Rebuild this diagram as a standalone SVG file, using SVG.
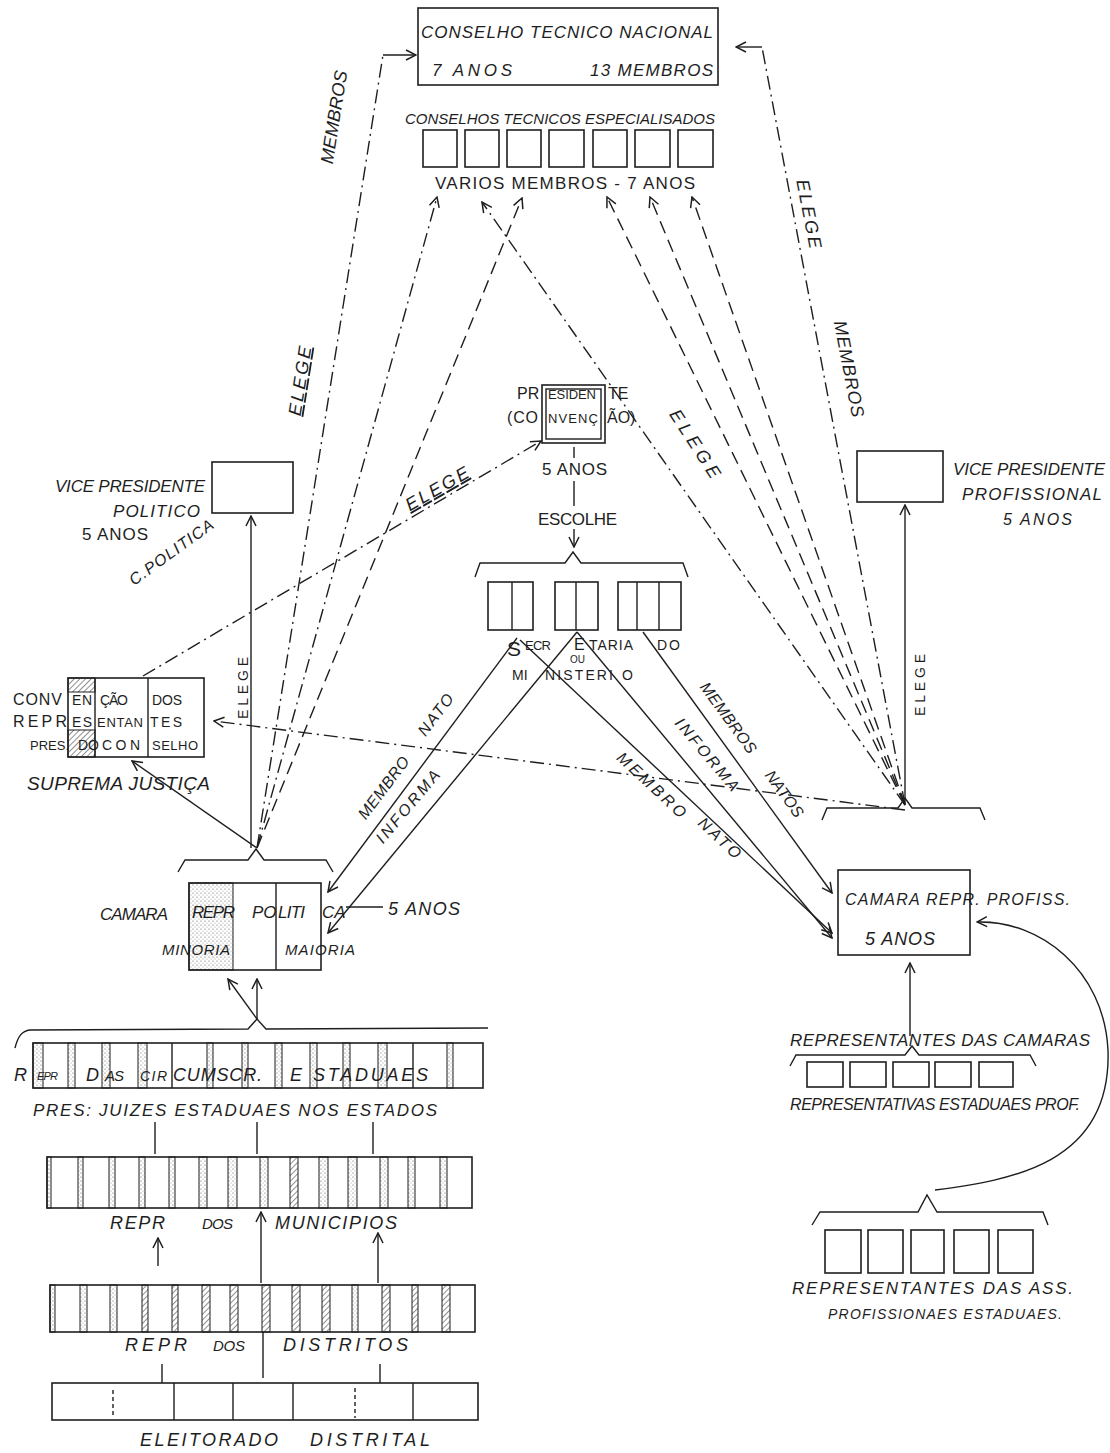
<svg xmlns="http://www.w3.org/2000/svg" width="1110" height="1453" viewBox="0 0 1110 1453">
<style>
.b{fill:none;stroke:#1e1e1e;stroke-width:1.6}
.l{fill:none;stroke:#1e1e1e;stroke-width:1.4}
.dd{fill:none;stroke:#1e1e1e;stroke-width:1.4;stroke-dasharray:14 5 2 5}
.da{fill:none;stroke:#1e1e1e;stroke-width:1.4;stroke-dasharray:13 7}
.a{marker-end:url(#ah)}
text{font-family:"Liberation Sans",Arial,sans-serif;fill:#1e1e1e;font-size:16px}
.i{font-style:italic}
.s{font-size:13px}
.t{font-size:14px}
.m{font-size:17px}
.g{font-size:18px}
.u{text-decoration:underline}
.st{fill:url(#dots);stroke:#1e1e1e;stroke-width:1}
.ht{fill:url(#hatch);stroke:#1e1e1e;stroke-width:1}
</style>
<defs>
<marker id="ah" viewBox="0 0 12 12" refX="11" refY="6" markerWidth="12" markerHeight="12" markerUnits="userSpaceOnUse" orient="auto"><path d="M1,1 L11,6 L1,11" fill="none" stroke="#1e1e1e" stroke-width="1.5"/></marker>
<pattern id="dots" width="4" height="4" patternUnits="userSpaceOnUse"><circle cx="1" cy="1" r="0.6" fill="#555"/><circle cx="3" cy="3" r="0.5" fill="#888"/></pattern>
<pattern id="hatch" width="4" height="4" patternUnits="userSpaceOnUse" patternTransform="rotate(45)"><line x1="0" y1="0" x2="0" y2="4" stroke="#444" stroke-width="1.2"/></pattern>
</defs>
<rect width="1110" height="1453" fill="#fff"/>

<g id="connectors">
<path class="l a" d="M251,848 L251,516"/>
<path class="dd" d="M257,848 L383,55"/>
<path class="l a" d="M383,55 L416,55"/>
<path class="dd a" d="M257,848 L437,197"/>
<path class="da a" d="M257,848 L522,198"/>
<path class="l a" d="M257,848 L132,761"/>
<path class="l a" d="M905,805 L905,505"/>
<path class="dd" d="M905,805 L762,47"/>
<path class="l a" d="M762,47 L736,47"/>
<path class="dd a" d="M905,805 L482,202"/>
<path class="da a" d="M905,805 L607,197"/>
<path class="da a" d="M905,805 L650,197"/>
<path class="da a" d="M905,805 L692,197"/>
<path class="dd a" d="M905,810 L214,721"/>
<path class="dd a" d="M143,676 L541,441"/>
<path class="l" d="M574,447 L574,458"/>
<path class="l" d="M574,481 L574,506"/>
<path class="l a" d="M574,529 L574,547"/>
<path class="l a" d="M517,638 L328,892"/>
<path class="l a" d="M577,632 L328,933"/>
<path class="l a" d="M520,640 L832,933"/>
<path class="l a" d="M577,632 L832,938"/>
<path class="l a" d="M643,632 L832,893"/>
<path class="l" d="M346,907 L383,907"/>
<path class="l a" d="M257,1019 L228,979"/>
<path class="l a" d="M257,1019 L257,979"/>
<path class="l" d="M155,1122 L155,1154 M257,1122 L257,1154 M373,1122 L373,1154"/>
<path class="l a" d="M158,1266 L158,1238"/>
<path class="l a" d="M261,1283 L261,1212"/>
<path class="l a" d="M378,1283 L378,1233"/>
<path class="l" d="M162,1364 L162,1383 M263,1332 L263,1378 M380,1364 L380,1383"/>
<path class="l a" d="M910,1036 L910,963"/>
<path class="l a" d="M935,1190 C1010,1180 1112,1165 1108,1050 C1104,970 1040,920 977,922"/>
</g>

<g id="conselho-nacional">
<rect class="b" x="418" y="8" width="300" height="77"/>
<text class="i m" x="421" y="38" textLength="292" lengthAdjust="spacing">CONSELHO TECNICO NACIONAL</text>
<text class="i m" x="432" y="76" textLength="80" lengthAdjust="spacing">7 ANOS</text>
<text class="i m" x="590" y="76" textLength="123" lengthAdjust="spacing">13 MEMBROS</text>
</g>

<g id="conselhos-especialisados">
<text class="i" x="405" y="124" style="font-size:15px" textLength="310" lengthAdjust="spacing">CONSELHOS TECNICOS ESPECIALISADOS</text>
<rect class="b" x="423" y="130" width="34" height="37"/>
<rect class="b" x="465" y="130" width="34" height="37"/>
<rect class="b" x="507" y="130" width="34" height="37"/>
<rect class="b" x="549" y="130" width="35" height="37"/>
<rect class="b" x="593" y="130" width="34" height="37"/>
<rect class="b" x="635" y="130" width="35" height="37"/>
<rect class="b" x="678" y="130" width="35" height="37"/>
<text class="m" x="435" y="189" textLength="260" lengthAdjust="spacing">VARIOS MEMBROS - 7 ANOS</text>
</g>

<g id="presidente">
<rect class="b" x="542" y="385" width="63" height="58"/>
<rect class="l" x="546" y="389" width="55" height="50"/>
<text x="517" y="399">PR</text>
<text class="s" x="548" y="399" textLength="48" lengthAdjust="spacing">ESIDEN</text>
<text x="608" y="399">TE</text>
<text x="507" y="423" textLength="31" lengthAdjust="spacing">(CO</text>
<text class="s" x="548" y="423" textLength="50" lengthAdjust="spacing">NVENÇ</text>
<text x="607" y="423">ÃO)</text>
<text class="m" x="542" y="475" textLength="65" lengthAdjust="spacing">5 ANOS</text>
<text class="m" x="538" y="525" textLength="79" lengthAdjust="spacing">ESCOLHE</text>
</g>

<g id="secretarias">
<path class="l" d="M475,577 L480,563 L565,563 L573,552 L581,563 L683,563 L688,577"/>
<rect class="b" x="488" y="582" width="45" height="48"/>
<path class="l" d="M512,582 L512,630"/>
<rect class="b" x="555" y="582" width="43" height="48"/>
<path class="l" d="M576,582 L576,630"/>
<rect class="b" x="618" y="582" width="63" height="48"/>
<path class="l" d="M637,582 L637,630 M659,582 L659,630"/>
<text x="507" y="656" style="font-size:21px">S</text>
<text class="s" x="525" y="650" textLength="26" lengthAdjust="spacing">ECR</text>
<text x="574" y="650">E</text>
<text class="t" x="589" y="650" textLength="44" lengthAdjust="spacing">TARIA</text>
<text class="t" x="657" y="650" textLength="23" lengthAdjust="spacing">DO</text>
<text x="570" y="663" style="font-size:10px">OU</text>
<text class="t" x="512" y="680">MI</text>
<text class="t" x="545" y="680" textLength="68" lengthAdjust="spacing">NISTERI</text>
<text class="t" x="622" y="680">O</text>
</g>

<g id="vice-politico">
<rect class="b" x="212" y="462" width="81" height="51"/>
<text class="i m" x="55" y="492" textLength="150" lengthAdjust="spacing">VICE PRESIDENTE</text>
<text class="i m" x="113" y="517" textLength="87" lengthAdjust="spacing">POLITICO</text>
<text class="m" x="82" y="540" textLength="66" lengthAdjust="spacing">5 ANOS</text>
<text class="i" transform="translate(134,586) rotate(-36)" textLength="100" lengthAdjust="spacing">C.POLITICA</text>
</g>

<g id="vice-profissional">
<rect class="b" x="857" y="451" width="86" height="51"/>
<text class="i m" x="953" y="475" textLength="152" lengthAdjust="spacing">VICE PRESIDENTE</text>
<text class="i m" x="962" y="500" textLength="140" lengthAdjust="spacing">PROFISSIONAL</text>
<text class="i" x="1003" y="525" textLength="69" lengthAdjust="spacing">5 ANOS</text>
</g>

<g id="convencao">
<rect class="b" x="68" y="678" width="136" height="79"/>
<rect class="ht" x="68" y="678" width="27" height="14"/>
<rect class="ht" x="68" y="730" width="27" height="27"/>
<path class="l" d="M95,678 L95,757 M148,678 L148,757"/>
<text x="13" y="705" textLength="49" lengthAdjust="spacing">CONV</text>
<text class="t" x="72" y="705" textLength="20" lengthAdjust="spacing">EN</text>
<text class="t" x="100" y="705" textLength="28" lengthAdjust="spacing">ÇÃO</text>
<text class="t" x="152" y="705" textLength="30" lengthAdjust="spacing">DOS</text>
<text x="13" y="727" textLength="54" lengthAdjust="spacing">REPR</text>
<text class="t" x="72" y="727" textLength="20" lengthAdjust="spacing">ES</text>
<text class="s" x="97" y="727" textLength="46" lengthAdjust="spacing">ENTAN</text>
<text class="t" x="150" y="727" textLength="32" lengthAdjust="spacing">TES</text>
<text class="s" x="30" y="750">PRES.</text>
<text class="t" x="78" y="750">DO</text>
<text class="t" x="102" y="750" textLength="38" lengthAdjust="spacing">CON</text>
<text class="s" x="152" y="750" textLength="46" lengthAdjust="spacing">SELHO</text>
<text class="i" x="27" y="790" style="font-size:19px" textLength="183" lengthAdjust="spacing">SUPREMA JUSTIÇA</text>
</g>

<g id="camara-politica">
<path class="l" d="M178,872 L185,860 L248,860 L256,849 L264,860 L326,860 L333,872"/>
<rect class="st" x="189" y="883" width="44" height="87"/>
<rect class="b" x="189" y="883" width="132" height="87"/>
<path class="l" d="M276,883 L276,970"/>
<text class="i m" x="100" y="920" textLength="68" lengthAdjust="spacing">CAMARA</text>
<text class="i m" x="192" y="918" textLength="43" lengthAdjust="spacing">REPR</text>
<text class="i m" x="252" y="918">PO</text>
<text class="i m" x="278" y="918" textLength="27" lengthAdjust="spacing">LITI</text>
<text class="i m" x="322" y="918">CA</text>
<text class="i g" x="388" y="915" textLength="72" lengthAdjust="spacing">5 ANOS</text>
<text class="i" x="162" y="955" style="font-size:15px" textLength="68" lengthAdjust="spacing">MINORIA</text>
<text class="i" x="285" y="955" style="font-size:15px" textLength="70" lengthAdjust="spacing">MAIORIA</text>
</g>

<g id="circumscricoes">
<path class="l" d="M15,1048 C18,1036 22,1031 30,1030 L248,1029 L257,1019 L266,1029 L488,1028"/>
<rect class="b" x="33" y="1043" width="450" height="45"/>
<rect class="st" x="33" y="1043" width="10" height="45"/>
<rect class="st" x="68" y="1043" width="7" height="45"/>
<rect class="st" x="102" y="1043" width="8" height="45"/>
<rect class="st" x="138" y="1043" width="9" height="45"/>
<rect class="st" x="207" y="1043" width="6" height="45"/>
<rect class="st" x="242" y="1043" width="6" height="45"/>
<rect class="st" x="275" y="1043" width="7" height="45"/>
<rect class="st" x="310" y="1043" width="7" height="45"/>
<rect class="st" x="343" y="1043" width="7" height="45"/>
<rect class="st" x="378" y="1043" width="9" height="45"/>
<rect class="st" x="447" y="1043" width="6" height="45"/>
<path class="l" d="M172,1043 L172,1088 M413,1043 L413,1088"/>
<text class="i g" x="14" y="1081">R</text>
<text class="i" x="37" y="1080" style="font-size:11px" textLength="21" lengthAdjust="spacing">EPR</text>
<text class="i g" x="86" y="1081">D</text>
<text class="i" x="105" y="1081" style="font-size:15px" textLength="19" lengthAdjust="spacing">AS</text>
<text class="i t" x="140" y="1081" textLength="27" lengthAdjust="spacing">CIR</text>
<text class="i g" x="173" y="1081" textLength="89" lengthAdjust="spacing">CUMSCR.</text>
<text class="i g" x="290" y="1081">E</text>
<text class="i g" x="313" y="1081" textLength="115" lengthAdjust="spacing">STADUAES</text>
<text class="i m" x="33" y="1116" textLength="404" lengthAdjust="spacing">PRES: JUIZES ESTADUAES NOS ESTADOS</text>
</g>

<g id="municipios">
<rect class="b" x="47" y="1157" width="425" height="51"/>
<rect class="st" x="47" y="1157" width="4" height="51"/>
<rect class="st" x="78" y="1157" width="5" height="51"/>
<rect class="st" x="109" y="1157" width="6" height="51"/>
<rect class="st" x="139" y="1157" width="6" height="51"/>
<rect class="st" x="169" y="1157" width="6" height="51"/>
<rect class="st" x="199" y="1157" width="8" height="51"/>
<rect class="st" x="228" y="1157" width="9" height="51"/>
<rect class="st" x="260" y="1157" width="8" height="51"/>
<rect class="ht" x="290" y="1157" width="8" height="51"/>
<rect class="st" x="319" y="1157" width="9" height="51"/>
<rect class="st" x="348" y="1157" width="9" height="51"/>
<rect class="st" x="380" y="1157" width="8" height="51"/>
<rect class="st" x="408" y="1157" width="7" height="51"/>
<rect class="st" x="440" y="1157" width="7" height="51"/>
<text class="i g" x="110" y="1229" textLength="55" lengthAdjust="spacing">REPR</text>
<text class="i" x="202" y="1229" style="font-size:15px" textLength="31" lengthAdjust="spacing">DOS</text>
<text class="i g" x="275" y="1229" textLength="122" lengthAdjust="spacing">MUNICIPIOS</text>
</g>

<g id="distritos">
<rect class="b" x="50" y="1285" width="425" height="47"/>
<rect class="st" x="50" y="1285" width="5" height="47"/>
<rect class="st" x="80" y="1285" width="7" height="47"/>
<rect class="st" x="110" y="1285" width="7" height="47"/>
<rect class="ht" x="142" y="1285" width="6" height="47"/>
<rect class="ht" x="172" y="1285" width="6" height="47"/>
<rect class="ht" x="202" y="1285" width="8" height="47"/>
<rect class="ht" x="230" y="1285" width="8" height="47"/>
<rect class="ht" x="262" y="1285" width="8" height="47"/>
<rect class="ht" x="292" y="1285" width="8" height="47"/>
<rect class="ht" x="322" y="1285" width="8" height="47"/>
<rect class="st" x="352" y="1285" width="6" height="47"/>
<rect class="ht" x="382" y="1285" width="8" height="47"/>
<rect class="ht" x="412" y="1285" width="6" height="47"/>
<rect class="ht" x="442" y="1285" width="8" height="47"/>
<text class="i g" x="125" y="1351" textLength="62" lengthAdjust="spacing">REPR</text>
<text class="i" x="213" y="1351" style="font-size:15px" textLength="32" lengthAdjust="spacing">DOS</text>
<text class="i g" x="283" y="1351" textLength="125" lengthAdjust="spacing">DISTRITOS</text>
</g>

<g id="eleitorado">
<rect class="b" x="52" y="1383" width="426" height="37"/>
<path class="l" d="M174,1383 L174,1420 M233,1383 L233,1420 M293,1383 L293,1420 M413,1383 L413,1420"/>
<path class="l" stroke-dasharray="4 3" d="M113,1390 L113,1416 M355,1388 L355,1418"/>
<text class="i g" x="140" y="1446" textLength="138" lengthAdjust="spacing">ELEITORADO</text>
<text class="i g" x="310" y="1446" textLength="120" lengthAdjust="spacing">DISTRITAL</text>
</g>

<g id="camara-profissional">
<path class="l" d="M822,820 L827,808 L898,808 L905,798 L912,808 L980,808 L985,820"/>
<rect class="b" x="838" y="870" width="132" height="85"/>
<text class="i" x="845" y="905" textLength="225" lengthAdjust="spacing">CAMARA REPR. PROFISS.</text>
<text class="i g" x="865" y="945" textLength="70" lengthAdjust="spacing">5 ANOS</text>
</g>

<g id="camaras-estaduais">
<text class="i m" x="790" y="1046" textLength="300" lengthAdjust="spacing">REPRESENTANTES DAS CAMARAS</text>
<path class="l" d="M790,1066 L796,1055 L905,1055 L912,1046 L919,1055 L1030,1055 L1036,1066"/>
<rect class="b" x="807" y="1062" width="36" height="25"/>
<rect class="b" x="850" y="1062" width="36" height="25"/>
<rect class="b" x="893" y="1062" width="36" height="25"/>
<rect class="b" x="935" y="1062" width="36" height="25"/>
<rect class="b" x="979" y="1062" width="34" height="25"/>
<text class="i" x="790" y="1110" textLength="290" lengthAdjust="spacing">REPRESENTATIVAS ESTADUAES PROF.</text>
</g>

<g id="associacoes">
<path class="l" d="M812,1225 L820,1212 L918,1212 L927,1195 L937,1212 L1043,1212 L1048,1225"/>
<rect class="b" x="825" y="1230" width="36" height="43"/>
<rect class="b" x="868" y="1230" width="35" height="43"/>
<rect class="b" x="911" y="1230" width="33" height="43"/>
<rect class="b" x="954" y="1230" width="35" height="43"/>
<rect class="b" x="998" y="1230" width="35" height="43"/>
<text class="i m" x="792" y="1294" textLength="281" lengthAdjust="spacing">REPRESENTANTES DAS ASS.</text>
<text class="i t" x="828" y="1319" textLength="234" lengthAdjust="spacing">PROFISSIONAES ESTADUAES.</text>
</g>

<g id="labels">
<text class="i g u" transform="translate(306,382) rotate(-81)" text-anchor="middle" textLength="70" lengthAdjust="spacing">ELEGE</text>
<text class="i g" transform="translate(340,118) rotate(-81)" text-anchor="middle" textLength="94" lengthAdjust="spacing">MEMBROS</text>
<text class="i g" transform="translate(803,215) rotate(79)" text-anchor="middle" textLength="70" lengthAdjust="spacing">ELEGE</text>
<text class="i g" transform="translate(843,370) rotate(79)" text-anchor="middle" textLength="98" lengthAdjust="spacing">MEMBROS</text>
<text class="i g" transform="translate(690,447) rotate(57)" text-anchor="middle" textLength="78" lengthAdjust="spacing">ELEGE</text>
<text class="i g u" transform="translate(440,494) rotate(-30)" text-anchor="middle" textLength="70" lengthAdjust="spacing">ELEGE</text>
<text transform="translate(248,688) rotate(-90)" text-anchor="middle" style="font-size:14px" textLength="62" lengthAdjust="spacing">ELEGE</text>
<text transform="translate(925,685) rotate(-90)" text-anchor="middle" style="font-size:14px" textLength="62" lengthAdjust="spacing">ELEGE</text>
<text class="i" transform="translate(440,718) rotate(-53)" text-anchor="middle" textLength="48" lengthAdjust="spacing">NATO</text>
<text class="i" transform="translate(388,791) rotate(-53)" text-anchor="middle" textLength="74" lengthAdjust="spacing">MEMBRO</text>
<text class="i" transform="translate(412,810) rotate(-50)" text-anchor="middle" textLength="90" lengthAdjust="spacing">INFORMA</text>
<text class="i" transform="translate(648,789) rotate(43)" text-anchor="middle" textLength="88" lengthAdjust="spacing">MEMBRO</text>
<text class="i" transform="translate(716,842) rotate(43)" text-anchor="middle" textLength="52" lengthAdjust="spacing">NATO</text>
<text class="i" transform="translate(703,758) rotate(50)" text-anchor="middle" textLength="90" lengthAdjust="spacing">INFORMA</text>
<text class="i" transform="translate(724,721) rotate(54)" text-anchor="middle" textLength="84" lengthAdjust="spacing">MEMBROS</text>
<text class="i" transform="translate(780,797) rotate(54)" text-anchor="middle" textLength="54" lengthAdjust="spacing">NATOS</text>
</g>
</svg>
